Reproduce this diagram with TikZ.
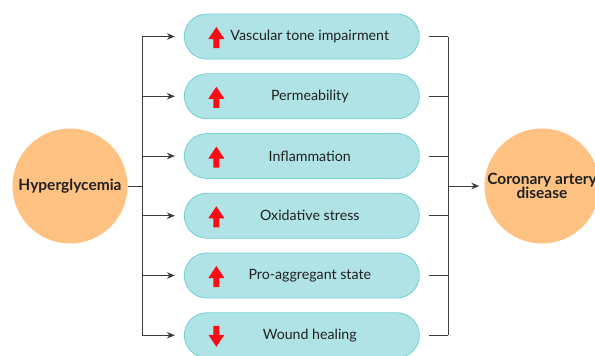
\documentclass[tikz,border=0pt]{standalone}
\usepackage{fontspec}
\setmainfont{Lato}
\usetikzlibrary{arrows.meta,calc}
\definecolor{boxfill}{HTML}{B0E3E6}
\definecolor{boxline}{HTML}{72D0D4}
\definecolor{orangefill}{HTML}{FFC283}
\definecolor{linegray}{HTML}{3C3C3C}
\definecolor{arrred}{HTML}{FF0A14}
\definecolor{textdark}{HTML}{202020}
\begin{document}
\begin{tikzpicture}[x=1pt,y=-1pt,
  factor/.style={draw=boxline, fill=boxfill, line width=0.8pt, rounded corners=22.5pt,
    minimum width=235pt, minimum height=45pt, inner sep=0pt},
  ftext/.style={font=\fontsize{14.2}{16}\selectfont, text=textdark, inner sep=0pt},
  circ/.style={circle, fill=orangefill, minimum size=115pt, inner sep=0pt,
    font=\bfseries\fontsize{15.5}{14.5}\selectfont, align=center, text=textdark},
  conn/.style={draw=linegray, line width=1pt},
  tip/.style={-{Stealth[length=8pt,width=6.5pt]}}]
\useasboundingbox (0,0) rectangle (595,356);
\node[circ] (hyp) at (70,186) {Hyperglycemia};
\node[circ] (cad) at (542,186) {Coronary artery\\disease};
\coordinate (ltrunk) at (142,0);
\coordinate (rtrunk) at (448,0);
\foreach \i/\t/\d in {1/Vascular tone impairment/1, 2/Permeability/1, 3/Inflammation/1,
    4/Oxidative stress/1, 5/Pro-aggregant state/1, 6/Wound healing/-1}{
  \node[factor] (b\i) at (301.8, {36.5+59.75*(\i-1)}) {};
  \node[ftext] (t\i) at ([xshift=8pt]b\i.center) {\t};
  \coordinate (a\i) at ([xshift=32.5pt,yshift=-1pt]b\i.west);
  \fill[arrred, shift={(a\i)}, yscale=\d] (0,-10.5) -- (8,1.5) -- (3,1.5) -- (3,10.5)
    -- (-3,10.5) -- (-3,1.5) -- (-8,1.5) -- cycle;
  \draw[conn, tip, shorten >=9pt] (b\i.west -| ltrunk) -- (b\i.west);
  \draw[conn, shorten <=9pt] (b\i.east) -- (b\i.east -| rtrunk);
}
\draw[conn] (hyp.east) -- (hyp.east -| ltrunk);
\draw[conn] (b1.west -| ltrunk) -- (b6.west -| ltrunk);
\draw[conn] (b1.east -| rtrunk) -- (b6.east -| rtrunk);
\draw[conn, tip, shorten >=5pt] (cad.west -| rtrunk) -- (cad.west);
\end{tikzpicture}
\end{document}
